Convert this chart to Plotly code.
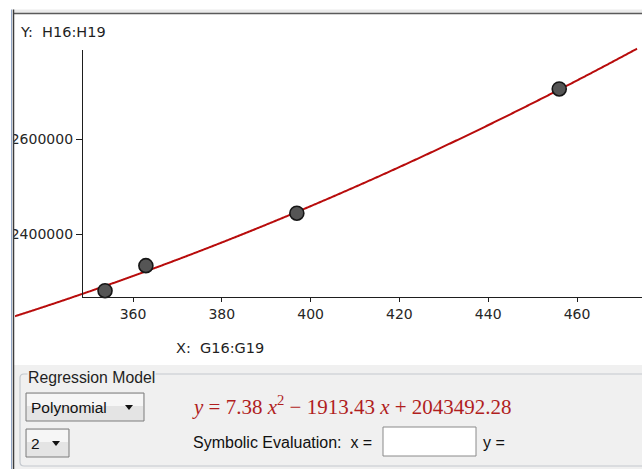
import numpy as np
import plotly.graph_objects as go

# ---------------- data ----------------
x_data = [353.7, 362.9, 396.9, 456.0]
y_data = [2280000, 2333000, 2444000, 2707000]
coef = [7.38, -1913.43, 2043492.28]          # regression y = a x^2 + b x + c
x_ticks = [360, 380, 400, 420, 440, 460]
y_ticks = [2400000, 2600000]
y_ticktext = ["2400000", "2600000"]
x_label = "X:  G16:G19"
y_label = "Y:  H16:H19"
group_title = "Regression Model"
model_name = "Polynomial"
model_order = "2"
eval_label = "Symbolic Evaluation:  x ="
eval_result = "y ="

# ---------------- geometry (pixels of the 642x469 page) ----------------
W, H = 642, 469
fx = lambda px: px / W
fy = lambda py: 1 - py / H
# pixel -> data mapping of the graphics view
xv = lambda px: 360 + (px - 133) / 4.44
yv = lambda py: 2400000 + (234 - py) * 200000 / 94.5

VIEW_L, VIEW_R, VIEW_T, VIEW_B = 15, 642, 15, 365
AX_X, AX_Y, AX_TOP = 83, 297, 50

fig = go.Figure()

xs = np.linspace(xv(VIEW_L), xv(637), 600)
ys = np.polyval(coef, xs)
fig.add_trace(go.Scatter(x=xs, y=ys, mode="lines",
                         line=dict(color="#b80c0c", width=2, simplify=False),
                         hoverinfo="skip", showlegend=False))
fig.add_trace(go.Scatter(x=x_data, y=y_data, mode="markers",
                         marker=dict(size=14, color="#555555",
                                     line=dict(color="#161616", width=1.6)),
                         showlegend=False, cliponaxis=False))
# invisible trace so the visible axes pair exists
fig.add_trace(go.Scatter(x=x_data, y=y_data, xaxis="x2", yaxis="y2",
                         mode="markers", marker=dict(opacity=0),
                         hoverinfo="skip", showlegend=False))

tickfont = dict(family="DejaVu Sans", size=14, color="#262626")
fig.update_layout(
    width=W, height=H, margin=dict(l=0, r=0, t=0, b=0),
    paper_bgcolor="white", plot_bgcolor="rgba(0,0,0,0)",
    xaxis=dict(domain=[fx(VIEW_L), fx(VIEW_R)], range=[xv(VIEW_L), xv(VIEW_R)],
               visible=False, fixedrange=True),
    yaxis=dict(domain=[fy(VIEW_B), fy(VIEW_T)], range=[yv(VIEW_B), yv(VIEW_T)],
               visible=False, fixedrange=True),
    xaxis2=dict(domain=[fx(AX_X), fx(VIEW_R)], range=[xv(AX_X), xv(VIEW_R)],
                anchor="y2", showline=True, linecolor="#1e1e1e", linewidth=1.3,
                showgrid=False, zeroline=False, ticks="outside", ticklen=4,
                tickcolor="#1e1e1e", tickvals=x_ticks, tickfont=tickfont,
                fixedrange=True),
    yaxis2=dict(domain=[fy(AX_Y), fy(AX_TOP)], range=[yv(AX_Y), yv(AX_TOP)],
                anchor="x2", showline=True, linecolor="#1e1e1e", linewidth=1.3,
                showgrid=False, zeroline=False, ticks="outside", ticklen=6,
                tickcolor="#1e1e1e", tickvals=y_ticks, ticktext=y_ticktext,
                tickfont=tickfont, fixedrange=True),
)

shapes = []
def rect(x0, y0, x1, y1, fill=None, line=None, lw=1, layer="above"):
    shapes.append(dict(type="rect", xref="paper", yref="paper",
                       x0=fx(x0), x1=fx(x1), y0=fy(y1), y1=fy(y0),
                       fillcolor=fill or "rgba(0,0,0,0)",
                       line=dict(color=line or "rgba(0,0,0,0)", width=lw if line else 0),
                       layer=layer))
def hline(x0, x1, y, color, lw=1):
    shapes.append(dict(type="line", xref="paper", yref="paper",
                       x0=fx(x0), x1=fx(x1), y0=fy(y), y1=fy(y),
                       line=dict(color=color, width=lw), layer="above"))
def vline(x, y0, y1, color, lw=1):
    shapes.append(dict(type="line", xref="paper", yref="paper",
                       x0=fx(x), x1=fx(x), y0=fy(y0), y1=fy(y1),
                       line=dict(color=color, width=lw), layer="above"))
def tri(cx, cy, w=8, h=5, color="#111111"):
    shapes.append(dict(type="path", xref="paper", yref="paper", layer="above",
                       path=(f"M {fx(cx - w/2)},{fy(cy - h/2)} L {fx(cx + w/2)},{fy(cy - h/2)} "
                             f"L {fx(cx)},{fy(cy + h/2)} Z"),
                       fillcolor=color, line=dict(width=0)))

# clip area left of the view (covers cut-off tick label)
rect(0, 0, 13, H, fill="white")
# top band and border
rect(13, 9.5, W, 13, fill="#ebebeb")
hline(13, W, 13.5, "#5a5a5a", 1.4)
# bottom panel
rect(13, VIEW_B, W, H, fill="#f0f0f0")
# group box
shapes.append(dict(type="path", xref="paper", yref="paper", layer="above",
                   path=(f"M {fx(700)},{fy(374)} L {fx(24)},{fy(374)} "
                         f"Q {fx(20)},{fy(374)} {fx(20)},{fy(378)} "
                         f"L {fx(20)},{fy(462)} Q {fx(20)},{fy(466)} {fx(24)},{fy(466)} "
                         f"L {fx(700)},{fy(466)}"),
                   line=dict(color="#c3c8ce", width=1.2)))
# left border lines
vline(11.5, 9.5, H, "#90a4c4", 1)
vline(13.5, 9.5, H, "#3c3c3c", 1.5)
# dropdowns
rect(26, 393, 144, 421, fill="#e4e4e4", line="#7c7c7c", lw=1)
rect(27, 394, 143, 406, fill="#f6f6f6")
tri(129, 407.5)
rect(26, 429, 69, 457, fill="#e4e4e4", line="#7c7c7c", lw=1)
rect(27, 430, 68, 442, fill="#f6f6f6")
tri(56, 443.5)
# input box
rect(383, 427, 476, 456, fill="white", line="#8a8a8a", lw=1)

fig.update_layout(shapes=shapes)

def ann(text, x, y, size=13, family="DejaVu Sans", color="#1f1f1f", xanchor="left", bg=None):
    fig.add_annotation(text=text, xref="paper", yref="paper", x=fx(x), y=fy(y),
                       xanchor=xanchor, yanchor="middle", showarrow=False,
                       font=dict(family=family, size=size, color=color),
                       bgcolor=bg, borderpad=0)

ann(y_label, 19, 32, size=14.5)
ann(x_label, 175, 348, size=14.5)
ann(group_title, 27, 377, size=15.8, family="Liberation Sans", bg="#f0f0f0")
ann(model_name, 30, 407, size=15.5, family="Liberation Sans", color="#111111")
ann(model_order, 30, 443, size=15.5, family="Liberation Sans", color="#111111")

a, b, c = coef
eq = (f"<i>y</i> = {a:.2f} <i>x</i><sup>2</sup> − {abs(b):.2f} <i>x</i> + {c:.2f}")
ann(eq, 191, 405, size=21, family="Liberation Serif", color="#b01e1e")
ann(eval_label, 192, 442, size=16, family="Liberation Sans", color="#111111")
ann(eval_result, 482, 442, size=16, family="Liberation Sans", color="#111111")

fig.write_html("out.html", config={"displayModeBar": False},
               post_script="document.body.style.margin='0';"
                           "document.body.style.overflow='hidden';")
